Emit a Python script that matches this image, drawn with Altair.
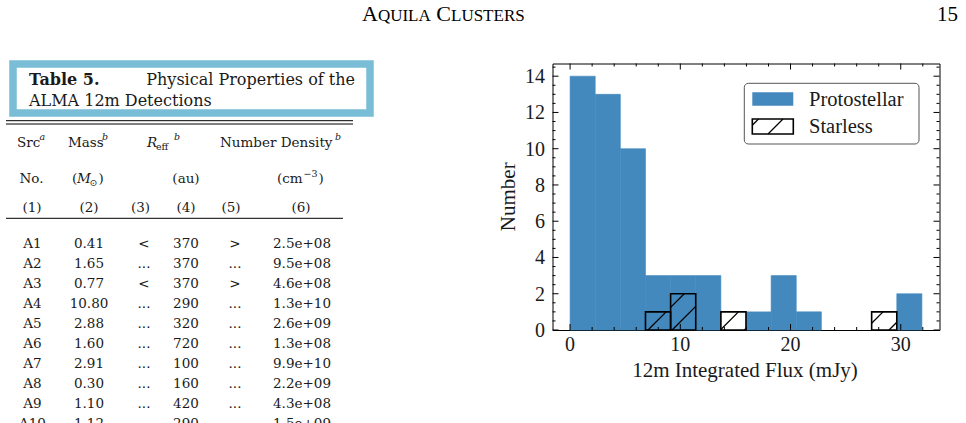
import altair as alt
import pandas as pd

# ---------------------------------------------------------------- data
# histogram of 12m integrated flux (mJy)
bin_edges = [0.0, 2.28, 4.56, 6.84, 9.12, 11.40, 13.68, 15.96, 18.24,
             20.52, 22.80, 25.08, 27.36, 29.64, 31.92]
protostellar = [14, 13, 10, 3, 3, 3, 0, 1, 3, 1, 0, 0, 0, 2]
starless = [0, 0, 0, 1, 2, 0, 1, 0, 0, 0, 0, 0, 1, 0]

x_major = [0, 10, 20, 30]
x_labels = ["0", "10", "20", "30"]
x_minor = [2, 4, 6, 8, 12, 14, 16, 18, 22, 24, 26, 28, 32]
y_major = [0, 2, 4, 6, 8, 10, 12, 14]
y_labels = ["0", "2", "4", "6", "8", "10", "12", "14"]
y_minor = [v / 2 for v in range(1, 30) if v % 4 != 0]

# Table 5 rows
src = ["A1", "A2", "A3", "A4", "A5", "A6", "A7", "A8", "A9", "A10"]
mass = ["0.41", "1.65", "0.77", "10.80", "2.88", "1.60", "2.91", "0.30", "1.10", "1.12"]
reff_flag = ["<", "...", "<", "...", "...", "...", "...", "...", "...", "..."]
reff = ["370", "370", "370", "290", "320", "720", "100", "160", "420", "290"]
dens_flag = [">", "...", ">", "...", "...", "...", "...", "...", "...", "..."]
dens = ["2.5e+08", "9.5e+08", "4.6e+08", "1.3e+10", "2.6e+09", "1.3e+08",
        "9.9e+10", "2.2e+09", "4.3e+08", "1.5e+09"]

# ---------------------------------------------------------------- layout
PX0, PY0 = 552.5, 63.5          # plot-area origin on the page
W, H = 387, 266.5               # plot-area size
XDOM = [-1.596, 33.516]
YDOM = [0, 14.7]
BLUE = "#4389be"
BOX = "#79bdd6"
SERIF = "Liberation Serif"
TSERIF = "DejaVu Serif"
INK = "black"
TINK = "#1a1a1a"

ONE = pd.DataFrame({"k": [0]})


def ax(px):
    return px - PX0


def ay(py):
    return py - PY0


def label(text, px, py, size, font=TSERIF, align="left", weight="normal",
          style="normal", line_height=None, angle=0, color=TINK):
    kw = dict(text=text, align=align, baseline="alphabetic", font=font,
              fontSize=size, fontWeight=weight, fontStyle=style, color=color)
    if line_height is not None:
        kw["lineHeight"] = line_height
    if angle:
        kw["angle"] = angle
    return alt.Chart(ONE).mark_text(**kw).encode(
        x=alt.value(ax(px)), y=alt.value(ay(py)))


def hrule(x1, x2, y, width=1.0, color=INK):
    return alt.Chart(ONE).mark_rule(color=color, strokeWidth=width).encode(
        x=alt.value(ax(x1)), x2=alt.value(ax(x2)), y=alt.value(ay(y)))


def seg(x1, y1, x2, y2, width=1.3):
    return alt.Chart(ONE).mark_rule(color=INK, strokeWidth=width).encode(
        x=alt.value(ax(x1)), x2=alt.value(ax(x2)),
        y=alt.value(ay(y1)), y2=alt.value(ay(y2)))


layers = []

# ---------------------------------------------------------------- page header
layers += [
    label("A", 362, 21, 22, font=SERIF, color=INK),
    label("QUILA", 377.9, 21, 17, font=SERIF, color=INK),
    label("C", 436.3, 21, 22, font=SERIF, color=INK),
    label("LUSTERS", 451, 21, 17, font=SERIF, color=INK),
    label("15", 958, 21, 21, font=SERIF, align="right", color=INK),
]

# ---------------------------------------------------------------- table
layers.append(
    alt.Chart(ONE).mark_rect(fillOpacity=0, stroke=BOX, strokeWidth=7.5).encode(
        x=alt.value(ax(13)), x2=alt.value(ax(370)),
        y=alt.value(ay(64)), y2=alt.value(ay(113)))
)
cap = 16
layers += [
    label("Table 5.", 29, 85, cap, weight="bold"),
    label("Physical Properties of the", 355, 85, cap, align="right"),
    label("ALMA 12m Detections", 29, 105.5, cap),
]
layers += [hrule(6, 353, 120.7), hrule(6, 353, 124), hrule(6, 343, 218.3)]

fs = 13.5
sup = 9.5
layers += [
    label("Src", 17, 146.7, fs), label("a", 39.5, 140, sup, style="italic"),
    label("Mass", 68, 146.7, fs), label("b", 102, 140, sup, style="italic"),
    label("R", 147, 146.7, fs, style="italic"), label("eff", 156, 149.5, sup),
    label("b", 174, 140, sup, style="italic"),
    label("Number Density", 220, 146.7, fs), label("b", 335, 140, sup, style="italic"),
    label("No.", 31.5, 182.7, fs, align="center"),
    label("(", 72, 182.7, fs), label("M", 77, 182.7, fs, style="italic"),
    label("\u2299", 89.5, 185.5, sup), label(")", 98.5, 182.7, fs),
    label("(au)", 186, 182.7, fs, align="center"),
    label("(cm", 277, 182.7, fs), label("\u22123", 303.5, 176.5, sup),
    label(")", 318.5, 182.7, fs),
]
for txt, cx in zip(["(1)", "(2)", "(3)", "(4)", "(5)", "(6)"],
                   [32, 89, 140.5, 186, 231, 301]):
    layers.append(label(txt, cx, 212, fs, align="center"))

for col, cx in zip([src, mass, reff_flag, reff, dens_flag, dens],
                   [32.5, 89, 144, 186, 235, 302]):
    layers.append(label(col, cx, 247.7, fs, align="center", line_height=20))

# ---------------------------------------------------------------- histogram
bars = pd.DataFrame({
    "x0": bin_edges[:-1],
    "x1": bin_edges[1:],
    "protostellar": protostellar,
    "starless": starless,
    "base": [0] * len(protostellar),
})
xs = alt.Scale(domain=XDOM, nice=False, zero=False)
ys = alt.Scale(domain=YDOM, nice=False, zero=False)

layers.append(
    alt.Chart(bars[bars["protostellar"] > 0]).mark_rect(
        color=BLUE, stroke=BLUE, strokeWidth=0.6).encode(
        x=alt.X("x0:Q", scale=xs, axis=None), x2="x1:Q",
        y=alt.Y("protostellar:Q", scale=ys, axis=None), y2="base:Q")
)

# hatching for the starless bars: 45-degree lines on a fixed pixel lattice
sl = bars[bars["starless"] > 0]
px_x = W / (XDOM[1] - XDOM[0])
px_y = H / (YDOM[1] - YDOM[0])
slope = px_x / px_y
hatch_step = 24.1 / px_x
hatch_phase = (648 - PX0) / px_x + XDOM[0]
rows = []
for _, b in sl.iterrows():
    for k in range(-20, 40):
        c = hatch_phase + k * hatch_step
        xa = max(b["x0"], c)
        xb = min(b["x1"], c + b["starless"] / slope)
        if xb > xa:
            rows.append({"hx": xa, "hy": slope * (xa - c),
                         "hx2": xb, "hy2": slope * (xb - c)})
hatch = pd.DataFrame(rows)
layers.append(
    alt.Chart(hatch).mark_rule(color=INK, strokeWidth=1.3).encode(
        x=alt.X("hx:Q", scale=xs, axis=None), x2="hx2:Q",
        y=alt.Y("hy:Q", scale=ys, axis=None), y2="hy2:Q")
)
layers.append(
    alt.Chart(sl).mark_rect(fillOpacity=0, stroke=INK, strokeWidth=1.6).encode(
        x=alt.X("x0:Q", scale=xs, axis=None), x2="x1:Q",
        y=alt.Y("starless:Q", scale=ys, axis=None), y2="base:Q")
)


# inward ticks on all four sides
def tick_layer(vals, channel, side, length):
    df = pd.DataFrame({"v": vals})
    ch = alt.Chart(df).mark_rule(color=INK, strokeWidth=1)
    if channel == "x":
        ya, yb = (H, H - length) if side == "bottom" else (0, length)
        return ch.encode(x=alt.X("v:Q", scale=xs, axis=None),
                         y=alt.value(ya), y2=alt.value(yb))
    xa, xb = (0, length) if side == "left" else (W, W - length)
    return ch.encode(y=alt.Y("v:Q", scale=ys, axis=None),
                     x=alt.value(xa), x2=alt.value(xb))


for side in ["bottom", "top"]:
    layers.append(tick_layer(x_major, "x", side, 6))
    layers.append(tick_layer(x_minor, "x", side, 3))
for side in ["left", "right"]:
    layers.append(tick_layer(y_major, "y", side, 6))
    layers.append(tick_layer(y_minor, "y", side, 3))

# tick labels placed through the same scales
layers.append(
    alt.Chart(pd.DataFrame({"v": x_major, "lab": x_labels})).mark_text(
        font=SERIF, fontSize=20, color=TINK, align="center",
        baseline="alphabetic").encode(
        x=alt.X("v:Q", scale=xs, axis=None), y=alt.value(ay(351)),
        text="lab:N")
)
layers.append(
    alt.Chart(pd.DataFrame({"v": y_major, "lab": y_labels})).mark_text(
        font=SERIF, fontSize=20, color=TINK, align="right",
        baseline="alphabetic", dy=7).encode(
        y=alt.Y("v:Q", scale=ys, axis=None), x=alt.value(-7.5),
        text="lab:N")
)

# axis titles
layers += [
    label("12m Integrated Flux (mJy)", 745, 377, 21, font=SERIF, align="center"),
    label("Number", 515, PY0 + H / 2, 21, font=SERIF, align="center", angle=270),
]

# legend
layers.append(
    alt.Chart(ONE).mark_rect(fill="white", stroke="#555555", strokeWidth=1,
                             cornerRadius=4).encode(
        x=alt.value(ax(744.3)), x2=alt.value(ax(919)),
        y=alt.value(ay(83.3)), y2=alt.value(ay(144)))
)
layers.append(
    alt.Chart(ONE).mark_rect(color=BLUE).encode(
        x=alt.value(ax(752.3)), x2=alt.value(ax(793.3)),
        y=alt.value(ay(92.3)), y2=alt.value(ay(105.7)))
)
lx0, lx1, ly0, ly1 = 752.3, 793.3, 119.0, 134.0
for c in [743.5, 768.0]:
    xa = max(lx0, c)
    xb = min(lx1, c + (ly1 - ly0))
    if xb > xa:
        layers.append(seg(xa, ly1 - (xa - c), xb, ly1 - (xb - c)))
layers.append(
    alt.Chart(ONE).mark_rect(fillOpacity=0, stroke=INK, strokeWidth=1.6).encode(
        x=alt.value(ax(lx0)), x2=alt.value(ax(lx1)),
        y=alt.value(ay(ly0)), y2=alt.value(ay(ly1)))
)
layers += [
    label("Protostellar", 809, 105.7, 20.5, font=SERIF),
    label("Starless", 809, 133.3, 20.5, font=SERIF),
]

chart = alt.layer(*layers).properties(
    width=W, height=H,
    padding={"left": PX0, "top": PY0, "right": 966 - PX0 - W,
             "bottom": 423 - PY0 - H},
    autosize=alt.AutoSizeParams(type="none"),
    background="white",
).configure_view(stroke=INK, strokeWidth=1)

chart.save("out.html", embed_options={"renderer": "svg", "actions": False})
